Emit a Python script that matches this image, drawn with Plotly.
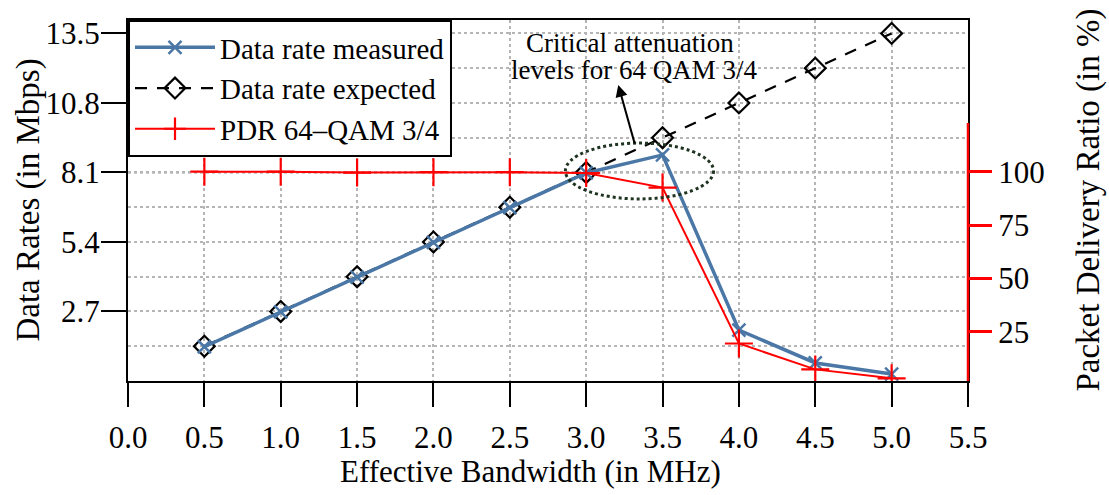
import plotly.graph_objects as go

bandwidth = [0.5, 1.0, 1.5, 2.0, 2.5, 3.0, 3.5, 4.0, 4.5, 5.0]
rate_measured = [1.33, 2.68, 4.03, 5.38, 6.73, 8.08, 8.78, 1.98, 0.70, 0.27]
rate_expected = [1.35, 2.7, 4.05, 5.4, 6.75, 8.1, 9.45, 10.8, 12.15, 13.5]
pdr = [100, 100, 99.6, 99.8, 99.8, 99.4, 92.6, 19.6, 7.5, 3.3]

x_ticks = [0.0, 0.5, 1.0, 1.5, 2.0, 2.5, 3.0, 3.5, 4.0, 4.5, 5.0, 5.5]
y_ticks = [2.7, 5.4, 8.1, 10.8, 13.5]
pdr_ticks = [25, 50, 75, 100]

FONT = "Liberation Serif"
BLUE = "#4a77a6"

fig = go.Figure()
fig.add_trace(go.Scatter(
    x=bandwidth, y=rate_expected, name="Data rate expected", mode="lines+markers",
    legendrank=2,
    line=dict(color="black", width=2.2, dash="12px,10px"),
    marker=dict(symbol="diamond-open", size=16, line=dict(color="black", width=2.2), color="black"),
))
fig.add_trace(go.Scatter(
    x=bandwidth, y=rate_measured, name="Data rate measured", mode="lines+markers",
    legendrank=1,
    line=dict(color=BLUE, width=3.5),
    marker=dict(symbol="x-thin", size=13, line=dict(color=BLUE, width=2.5), color=BLUE),
))
fig.add_trace(go.Scatter(
    x=bandwidth, y=pdr, name="PDR 64\u2013QAM 3/4", mode="lines+markers", yaxis="y2",
    legendrank=3,
    line=dict(color="red", width=2),
    marker=dict(symbol="cross-thin", size=20, line=dict(color="red", width=2.2), color="red"),
))

# dark dotted reference line at 8.1 Mbps (100 % PDR)
fig.add_shape(type="line", xref="paper", yref="y", x0=0, x1=1, y0=8.1, y1=8.1,
              line=dict(color="#333333", width=1.8, dash="dot"), layer="below")
# ellipse marking critical region
fig.add_shape(type="circle", xref="x", yref="y", x0=2.864, x1=3.834, y0=7.07, y1=9.24,
              line=dict(color="#1e3320", width=3, dash="dot"))
# red right spine
fig.add_shape(type="line", xref="paper", yref="y2", x0=1, x1=1, y0=2.06, y1=122.8,
              line=dict(color="red", width=2.5))

fig.add_annotation(x=3.29, y=13.13, xref="x", yref="y", text="Critical attenuation",
                   showarrow=False, font=dict(family=FONT, size=27, color="black"))
fig.add_annotation(x=3.31, y=12.08, xref="x", yref="y", text="levels for 64 QAM 3/4",
                   showarrow=False, font=dict(family=FONT, size=27, color="black"))
fig.add_annotation(x=3.21, y=11.5, ax=3.32, ay=9.17, xref="x", yref="y", axref="x", ayref="y",
                   text="", showarrow=True, arrowhead=2, arrowsize=1.2, arrowwidth=2,
                   arrowcolor="black", standoff=0)

# axis titles
fig.add_annotation(x=-0.119, y=0.5, xref="paper", yref="paper", text="Data Rates (in Mbps)",
                   textangle=-90, showarrow=False, xanchor="center", yanchor="middle",
                   font=dict(family=FONT, size=33, color="black"))
fig.add_annotation(x=1.1429, y=0.5, xref="paper", yref="paper", text="Packet Delivery Ratio (in %)",
                   textangle=-90, showarrow=False, xanchor="center", yanchor="middle",
                   font=dict(family=FONT, size=33, color="black"))
fig.add_annotation(x=0.4786, y=-0.252, xref="paper", yref="paper", text="Effective Bandwidth (in MHz)",
                   showarrow=False, xanchor="center", yanchor="middle",
                   font=dict(family=FONT, size=31, color="black"))

fig.update_layout(
    width=1109, height=495,
    margin=dict(l=128, r=141, t=20, b=114),
    paper_bgcolor="white", plot_bgcolor="white",
    font=dict(family=FONT, size=30, color="black"),
    showlegend=True,
    legend=dict(x=0, y=1, xanchor="left", yanchor="top", bgcolor="white",
                bordercolor="black", borderwidth=2, font=dict(family=FONT, size=29),
                itemwidth=80, tracegroupgap=0),
    xaxis=dict(
        range=[0, 5.5], tickvals=x_ticks, ticktext=[f"{v:.1f}" for v in x_ticks],
        ticks="outside", ticklen=24, tickwidth=2, tickcolor="black",
        showline=True, linecolor="black", linewidth=2, mirror=True,
        showgrid=True, gridcolor="#b5b5b5", griddash="dot", gridwidth=1.5,
        zeroline=False, ticklabelstandoff=4,
        tickfont=dict(size=31),
    ),
    yaxis=dict(
        range=[0, 14.02], tickvals=y_ticks, ticktext=[f"{v:.1f}" for v in y_ticks],
        ticks="outside", ticklen=25, tickwidth=2, tickcolor="black",
        showline=True, linecolor="black", linewidth=2, mirror=True,
        showgrid=True, gridcolor="#b5b5b5", griddash="dot", gridwidth=1.5,
        minor=dict(tick0=0, dtick=1.35, showgrid=True, gridcolor="#b5b5b5", griddash="dot", gridwidth=1.5),
        zeroline=False, ticklabelstandoff=-5,
        tickfont=dict(size=31),
    ),
    yaxis2=dict(
        overlaying="y", side="right", range=[2.06, 171.0], tickvals=pdr_ticks,
        ticks="outside", ticklen=23, tickwidth=2.5, tickcolor="red",
        showline=False, showgrid=False, zeroline=False,
        tickfont=dict(size=31),
    ),
)

fig.write_html("out.html")
